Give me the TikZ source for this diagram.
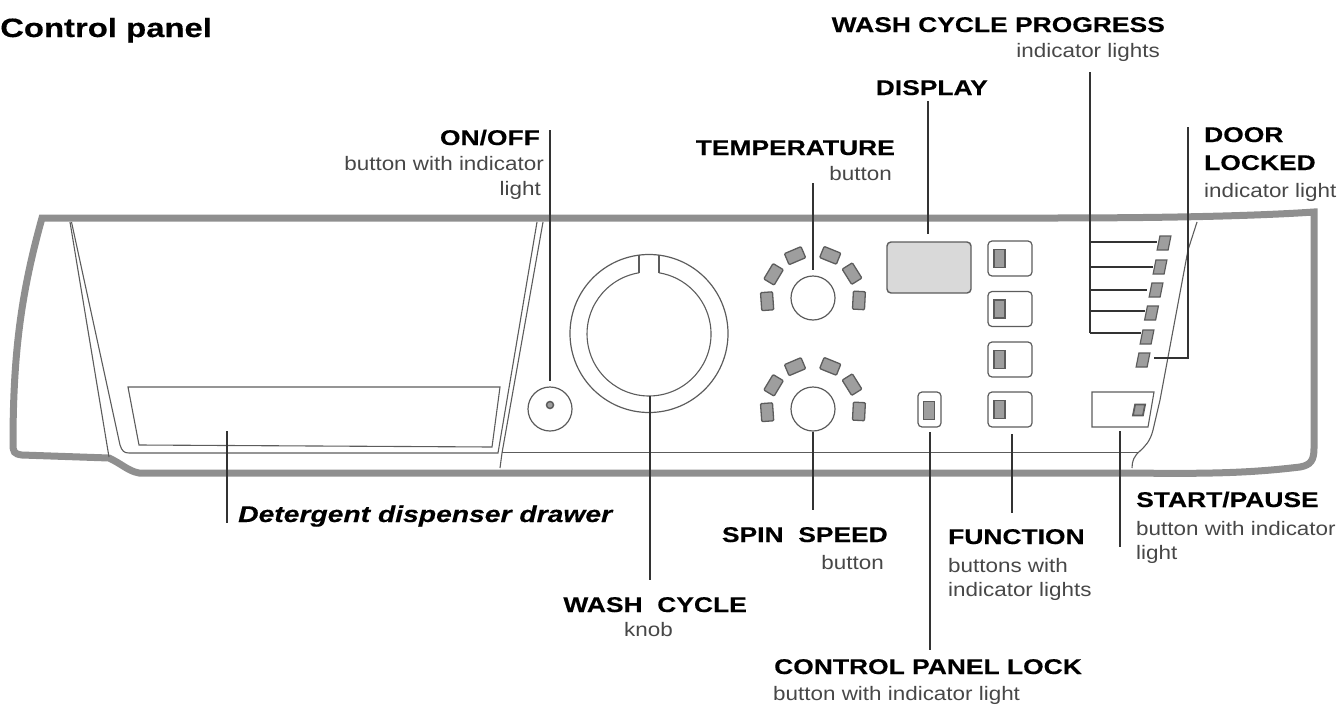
\documentclass[tikz,border=0pt]{standalone}
\usepackage{fontspec}
\usetikzlibrary{calc}
\setmainfont{Liberation Sans}
\newfontfamily\headfont[FakeStretch=1.24,FakeBold=0.35]{Liberation Sans}
\newfontfamily\subfont[FakeStretch=1.15]{Liberation Sans}
\definecolor{panelgray}{gray}{0.56}
\definecolor{edgegray}{gray}{0.36}
\definecolor{lampgray}{gray}{0.62}
\tikzset{
  outline/.style={draw=panelgray, line width=7pt},
  thinline/.style={draw=edgegray, line width=1.1pt},
  leader/.style={draw=black!80, line width=1.2pt},
  headtxt/.style={inner sep=0pt, font=\headfont\bfseries\fontsize{21.3}{24}\selectfont},
  subtxt/.style={inner sep=0pt, text=black!72, font=\subfont\fontsize{19.5}{23}\selectfont},
  lamp/.style={draw=edgegray, fill=lampgray, line width=1.3pt, rounded corners=1pt, inner sep=0pt, minimum width=18pt, minimum height=12pt},
  slantlamp/.style={draw=edgegray, fill=lampgray, line width=1.2pt, inner sep=0pt, minimum width=11pt, minimum height=14pt, xslant=0.2},
  btn/.style={draw=edgegray, fill=white, line width=1.2pt, rounded corners=4pt, inner sep=0pt, minimum width=44pt, minimum height=35pt},
  btnlamp/.style={draw=edgegray, fill=lampgray, line width=1.5pt, inner sep=0pt, minimum width=11pt, minimum height=18pt},
  knob/.style={circle, draw=edgegray, fill=white, line width=1.2pt, inner sep=0pt, minimum size=44pt}
}
\begin{document}
\begin{tikzpicture}[x=1pt, y=-1pt]
    \useasboundingbox (0,0) rectangle (1340,704);

    % Panel outline
    \draw[outline] (42,218) -- (1050,218) .. controls (1190,218) and (1270,215) .. (1314,212)
        -- (1314,448) .. controls (1314,460) and (1311,465) .. (1300,467)
        .. controls (1250,473) and (1210,474) .. (1130,473) -- (139,473) .. controls (128,471) and (122,464) .. (109,458)
        -- (22,455) .. controls (14,454) and (13,452) .. (13,444)
        .. controls (13,350) and (22,290) .. (42,218) -- cycle;

    % Drawer lines
    \draw[thinline] (70,222) -- (109,457);
    \draw[thinline] (71.5,222) -- (120,445) .. controls (122,451) and (124,453) .. (129,453) -- (498,453) -- (537,222);
    \draw[thinline] (500,468) -- (502,453) -- (543,222);
    \draw[thinline] (128,387) -- (500,387) -- (492,447) -- (139,445) -- cycle;

    % Right side lines
    \draw[thinline] (502,452.5) -- (1138,452.5);
    \draw[thinline] (1197,222) -- (1188,250) -- (1160,400) -- (1153,430)
        .. controls (1150,442) and (1145,446) .. (1140,451) .. controls (1134,456) and (1132,461) .. (1132,468);
    \draw[thinline] (1092,392) -- (1154,392) -- (1148,427) -- (1092,427) -- cycle;

    % Wash cycle knob
    \node[circle, draw=edgegray, line width=1.2pt, inner sep=0pt, minimum size=158pt] (washRing) at (649,333.5) {};
    \draw[thinline] (639,272.8) -- (639,254.5);
    \draw[thinline] (659,272.8) -- (659,254.5);
    \draw[thinline] (639,272.8) arc[start angle=-99.3, end angle=-440.7, radius=62];

    % On/off button
    \node[knob] (onBtn) at (550,409) {};
    \node[circle, draw=edgegray, fill=lampgray, line width=1.5pt, inner sep=0pt, minimum size=7pt] (onDot) at (550,405) {};

    % Temperature and spin knobs with their lamps
    \node[knob] (tempKnob) at (813,298) {};
    \node[knob] (spinKnob) at (813,409) {};
    \foreach \a [count=\i] in {184,149,113,68,32,-3} {
        \node[lamp, rotate=\a-90] (tempLamp\i) at ($(tempKnob.center)+(-\a:46)$) {};
        \node[lamp, rotate=\a-90] (spinLamp\i) at ($(spinKnob.center)+(-\a:46)$) {};
    }

    % Display and function buttons
    \node[draw=edgegray, fill=gray!30, line width=1.4pt, rounded corners=4pt, minimum width=84pt, minimum height=51pt, inner sep=0pt] (display) at (929,267.5) {};
    \foreach \y [count=\i] in {258.5,309,359.5,409.5} {
        \node[btn] (funBtn\i) at (1010,\y) {};
        \node[btnlamp] (funLamp\i) at (999.5,\y) {};
    }

    % Control panel lock button
    \node[btn, minimum width=23pt] (lockBtn) at (929.5,409.5) {};
    \node[btnlamp, line width=.8pt, minimum height=18pt] (lockLamp) at (929,410) {};

    % Progress and door lamps
    \foreach \x/\y [count=\i] in {1164/243,1160/267,1156/290,1151.5/313,1147/337,1143/360} {
        \node[slantlamp] (progLamp\i) at (\x,\y) {};
    }
    \node[slantlamp, line width=1.8pt, minimum width=10pt, minimum height=11pt] (startLamp) at (1139,410) {};

    % Leaders
    \coordinate (onTop) at (550,130);
    \coordinate (onEnd) at (550,381);
    \draw[leader] (onTop) -- (onEnd);
    \coordinate (drawerTop) at (227,431);
    \coordinate (drawerEnd) at (227,523);
    \draw[leader] (drawerTop) -- (drawerEnd);
    \coordinate (washTop) at (650,396);
    \coordinate (washEnd) at (650,580);
    \draw[leader] (washTop) -- (washEnd);
    \coordinate (tempTop) at (813,183);
    \coordinate (tempEnd) at (813,270);
    \draw[leader] (tempTop) -- (tempEnd);
    \coordinate (dispTop) at (928,101);
    \coordinate (dispEnd) at (928,234);
    \draw[leader] (dispTop) -- (dispEnd);
    \coordinate (spinEnd) at (813,510);
    \draw[leader] (spinKnob) -- (spinEnd);
    \coordinate (lockTop) at (930,432);
    \coordinate (lockEnd) at (930,650);
    \draw[leader] (lockTop) -- (lockEnd);
    \coordinate (funTop) at (1012,434);
    \coordinate (funEnd) at (1012,513);
    \draw[leader] (funTop) -- (funEnd);
    \coordinate (startTop) at (1120,431);
    \coordinate (startEnd) at (1120,547);
    \draw[leader] (startTop) -- (startEnd);

    % Progress leader with branches
    \coordinate (progTop) at (1090,72);
    \coordinate (progBot) at (1090,333);
    \draw[leader] (progTop) -- (progBot);
    \foreach \y/\x [count=\i] in {242/1157,267/1153,290/1147,311/1145,333/1141} {
        \coordinate (progB\i) at (1090,\y);
        \coordinate (progE\i) at (\x,\y);
        \draw[leader] (progB\i) -- (progE\i);
    }

    % Door locked leader
    \coordinate (doorTop) at (1188,127);
    \coordinate (doorBend) at (1188,358);
    \coordinate (doorEnd) at (1154,358);
    \draw[leader] (doorTop) -- (doorBend) -- (doorEnd);

    % Labels
    \node[headtxt, anchor=base west, font=\headfont\bfseries\fontsize{26.5}{28}\selectfont] (title) at (0,37) {Control panel};
    \node[headtxt, anchor=base east] (progHead) at (1165,32) {WASH CYCLE PROGRESS};
    \node[subtxt, anchor=base east] (progSub) at (1160,57) {indicator lights};
    \node[headtxt, anchor=base east] (dispHead) at (988,95) {DISPLAY};
    \node[headtxt, anchor=base east] (onHead) at (540,145) {ON/OFF};
    \node[subtxt, anchor=base east] (onSub1) at (544,170) {button with indicator};
    \node[subtxt, anchor=base east] (onSub2) at (541,195) {light};
    \node[headtxt, anchor=base east] (tempHead) at (895,155) {TEMPERATURE};
    \node[subtxt, anchor=base east] (tempSub) at (892,180) {button};
    \node[headtxt, anchor=base west] (doorHead1) at (1204,142) {DOOR};
    \node[headtxt, anchor=base west] (doorHead2) at (1204,170) {LOCKED};
    \node[subtxt, anchor=base west] (doorSub) at (1204,197) {indicator light};
    \node[headtxt, anchor=base west, font=\headfont\bfseries\itshape\fontsize{22.8}{24}\selectfont] (drawerHead) at (238,522) {Detergent dispenser drawer};
    \node[headtxt, anchor=base east] (spinHead) at (888,542) {SPIN\ \ SPEED};
    \node[subtxt, anchor=base east] (spinSub) at (884,569) {button};
    \node[headtxt, anchor=base west] (funHead) at (948,544) {FUNCTION};
    \node[subtxt, anchor=base west] (funSub1) at (948,572) {buttons with};
    \node[subtxt, anchor=base west] (funSub2) at (948,596) {indicator lights};
    \node[headtxt, anchor=base west] (startHead) at (1136,507) {START/PAUSE};
    \node[subtxt, anchor=base west] (startSub1) at (1136,535) {button with indicator};
    \node[subtxt, anchor=base west] (startSub2) at (1136,559) {light};
    \node[headtxt, anchor=base east] (washHead) at (747,612) {WASH\ \ CYCLE};
    \node[subtxt, anchor=base east] (washSub) at (673,636) {knob};
    \node[headtxt, anchor=base west] (lockHead) at (774,674) {CONTROL PANEL LOCK};
    \node[subtxt, anchor=base west] (lockSub) at (773,700) {button with indicator light};
\end{tikzpicture}
\end{document}
